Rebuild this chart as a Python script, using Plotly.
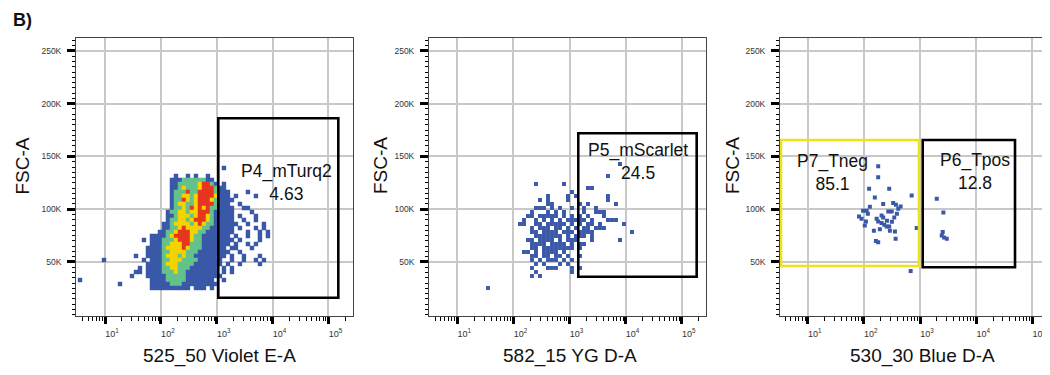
import math
import plotly.graph_objects as go

# ---------------- data ----------------
X_TITLES = ["525_50 Violet E-A", "582_15 YG D-A", "530_30 Blue D-A"]
Y_TITLE = "FSC-A"
Y_TICK_VALUES = [50000, 100000, 150000, 200000, 250000]
Y_TICK_TEXT = ["50K", "100K", "150K", "200K", "250K"]
X_TICK_VALUES = [10, 100, 1000, 10000, 100000]
X_TICK_TEXT = ["10<sup>1</sup>", "10<sup>2</sup>", "10<sup>3</sup>", "10<sup>4</sup>", "10<sup>5</sup>"]

# gates
GATE_NAMES = ["P4_mTurq2", "P5_mScarlet", "P7_Tneg", "P6_Tpos"]
GATE_PCTS = ["4.63", "24.5", "85.1", "12.8"]
GATE_PANEL = [0, 1, 2, 2]
GATE_X0 = [1067, 1432, 3.35, 1117]
GATE_X1 = [150300, 184900, 960, 49200]
GATE_Y0 = [16160, 36070, 46210, 44980]
GATE_Y1 = [186200, 172000, 165650, 165650]
LABEL_X = [18100, 16620, 27.1, 9360]
LABEL_Y = [125800, 144800, 134400, 135300]

# Panel 1: pseudocolour density, binned (row -> (first column, levels))
# levels: b=low, g=mid, y=high, r=highest
P1_X0_LOG, P1_DX_LOG = 0.5516, 0.0716   # log10 of first bin centre, bin width (decades)
P1_Y0, P1_DY = 139100, 3792             # FSC-A of first row centre, row height
P1_ROWS = [
    (36, "b"),
    (0, ""),
    (24, "b..b.b..b"),
    (23, "bbbggggggbb"),
    (23, "bbgggggyrrgb.b"),
    (23, "bbgygggyrrrgbb"),
    (23, "bgggrggrrrrgbbb....b"),
    (23, "bggyygyrrrrybbb.b....b"),
    (23, "bggrygyrrrygbbbb"),
    (23, "bgyyggyrrrrgbbb..b"),
    (23, "bggygryryrggbbbb..bb"),
    (22, "bggyygyyrrrgbbbbb....b"),
    (22, "bbgyyygyrrygbbbbb.b...b"),
    (22, "bggyygyrrrygbbbbb..b..b"),
    (21, "bbgyyyygyryggbbbbbb..b...b"),
    (21, "bbggyryyyyggbbbbbb.b...b.b"),
    (20, "bbggyrrryyggbbbbbbb...b..b.b"),
    (18, "bbbbgyrrrryggbbbbbbb.b..b..b.b"),
    (16, "b.bbbgggyrrryggbbbbbbbb.b....b"),
    (18, "bbbggyyyrrgggbbbbbbb.b..b.b"),
    (17, "bbbbgyyyyrygggbbbbbb.bb...b"),
    (17, "bbbbggyyyygggbbbbbbbb..b"),
    (14, "b..bbbbgyyygyggbbbbbbbb.b..b...b"),
    (6, "b.........b.bbbggyyyggggbbbbbb..b..b..b.b"),
    (17, "bbbbgyyyggggbbbbbbb.b..b....b"),
    (15, "b.bbbbggyygggbbbbbbb.b.b"),
    (14, "bb.bbbbgggyggbbbbbbbb.b.b"),
    (13, "b...bbbbbgggggbbbbbbbbb"),
    (0, "b.................bbbbgggggbbbbbbb..b"),
    (10, "b.......bbbbbgggbbbbbbbbb"),
    (18, "bbbbbbbbbb.bbb.b"),
]
LEVEL_COLORS = {"b": "#3a58a8", "g": "#63c28c", "y": "#f4d300", "r": "#e8351f"}

# Panel 2: events, binned (row -> list of occupied columns)
P2_X0_LOG, P2_DX_LOG = 1.4754, 0.0713
P2_Y0, P2_DY = 142900, 3792
P2_ROWS = [
    [34], [], [], [31], [], [13, 20], [26, 27], [22],
    [16, 21, 23, 31],
    [14, 16, 21, 31],
    [16, 17, 24, 26, 33],
    [13, 14, 15, 17, 19, 22, 25, 28],
    [12, 16, 18, 20, 25, 28, 29, 30],
    [11, 12, 14, 15, 16, 17, 18, 20, 22, 24, 26, 30],
    [10, 13, 15, 17, 19, 21, 22, 23, 24, 25, 27, 31, 32, 33],
    [9, 10, 13, 14, 16, 17, 18, 19, 20, 22, 24, 26, 27, 29, 35],
    [12, 14, 15, 16, 18, 19, 21, 23, 25, 26, 28, 29, 30],
    [12, 13, 15, 16, 17, 18, 20, 21, 22, 24, 25, 26, 27, 37],
    [13, 14, 15, 16, 17, 18, 19, 21, 23, 24, 25, 27],
    [11, 12, 14, 15, 16, 17, 19, 21, 22, 23, 27, 34],
    [12, 13, 14, 15, 17, 18, 19, 20, 22, 24, 25],
    [12, 13, 15, 16, 17, 18, 19, 20, 21, 22, 24],
    [10, 11, 13, 15, 16, 17, 18, 20],
    [12, 13, 15, 16, 18, 19, 21, 24],
    [12, 14, 16, 17, 18, 20, 22],
    [13, 15, 19, 21],
    [12, 16, 17, 18, 22, 24],
    [13, 22],
    [12, 14],
    [], [], [1],
]

# Panel 3: individual events
P3_X = [180, 180, 124, 283, 157, 711, 221, 333, 372, 452, 410, 112, 97, 82, 91, 109,
        104, 169, 180, 207, 221, 272, 313, 348, 207, 231, 254, 283, 151, 358, 164, 180,
        368, 873, 682, 1990, 2610, 2540, 2440, 2690, 3000, 128, 258, 316, 193, 388, 118, 291]
P3_Y = [140800, 130300, 119500, 119500, 111200, 113100, 105000, 105900, 104300, 102700,
        100500, 98600, 98600, 93100, 91000, 88400, 84600, 91000, 88400, 94100, 92200,
        97900, 97900, 92200, 86900, 85200, 83600, 83600, 79500, 78900, 70000, 68800,
        71900, 82100, 41400, 110000, 97000, 78300, 75000, 73100, 71900, 102400, 89000,
        88100, 81000, 95700, 95700, 79500]

# ---------------- layout constants ----------------
# the page body has an 8px margin, so the figure is laid out 8px in from the window
OFF = 8
W, H = 1042, 367


def px(xp):
    return (xp - OFF) / W


def py(yp):
    return 1 - (yp - OFF) / H


X_RANGES = [[0.48, 5.44], [0.495, 5.433], [0.507, 5.315]]
Y_RANGE = [-1200, 262000]
X_DOMAINS = [[px(76), px(353)], [px(429), px(706)], [px(780), 1.0]]
Y_DOMAIN = [py(316), py(38.3)]
BLUE = "#3a58a8"
GATE_COLORS = ["black", "black", "#efe21c", "black"]
FONT = "Liberation Sans, Arial, sans-serif"

# ---------------- build event coordinates ----------------
p1x, p1y, p1c = [], [], []
for r, (off, s) in enumerate(P1_ROWS):
    for i, ch in enumerate(s):
        if ch in LEVEL_COLORS:
            p1x.append(10 ** (P1_X0_LOG + (off + i) * P1_DX_LOG))
            p1y.append(P1_Y0 - r * P1_DY)
            p1c.append(LEVEL_COLORS[ch])

p2x, p2y = [], []
for r, cols in enumerate(P2_ROWS):
    for c in cols:
        p2x.append(10 ** (P2_X0_LOG + c * P2_DX_LOG))
        p2y.append(P2_Y0 - r * P2_DY)

fig = go.Figure()
fig.add_trace(go.Scatter(x=p1x, y=p1y, mode="markers",
                         marker=dict(color=p1c, symbol="square", size=4.4, line=dict(width=0)),
                         xaxis="x", yaxis="y", showlegend=False, hoverinfo="skip"))
fig.add_trace(go.Scatter(x=p2x, y=p2y, mode="markers",
                         marker=dict(color=BLUE, symbol="square", size=3.9, line=dict(width=0)),
                         xaxis="x2", yaxis="y2", showlegend=False, hoverinfo="skip"))
fig.add_trace(go.Scatter(x=P3_X, y=P3_Y, mode="markers",
                         marker=dict(color=BLUE, symbol="square", size=4.0, line=dict(width=0)),
                         xaxis="x3", yaxis="y3", showlegend=False, hoverinfo="skip"))

minor_x = [k * 10 ** d for d in range(0, 6) for k in range(2, 10)]

layout = dict(
    width=W, height=H,
    margin=dict(l=0, r=0, t=0, b=0),
    paper_bgcolor="white", plot_bgcolor="white",
    font=dict(family=FONT, color="#222"),
    showlegend=False,
)
for i in range(3):
    sx = "" if i == 0 else str(i + 1)
    layout["xaxis" + sx] = dict(
        type="log", range=X_RANGES[i], domain=X_DOMAINS[i], anchor="y" + sx,
        tickmode="array", tickvals=X_TICK_VALUES, ticktext=X_TICK_TEXT,
        ticks="outside", ticklen=7, tickwidth=3, tickcolor="black",
        tickfont=dict(size=9, color="#333"), ticklabelshift=7, ticklabelstandoff=2,
        minor=dict(tickmode="array", tickvals=minor_x, ticks="outside", ticklen=3.5,
                   tickwidth=1.3, tickcolor="black", showgrid=False),
        showgrid=True, gridcolor="#c8c8c8", gridwidth=1.8,
        showline=True, mirror=True, linecolor="#444", linewidth=1,
        zeroline=False, automargin=False, fixedrange=True,
    )
    layout["yaxis" + sx] = dict(
        range=Y_RANGE, domain=Y_DOMAIN, anchor="x" + sx,
        tickmode="array", tickvals=Y_TICK_VALUES, ticktext=Y_TICK_TEXT,
        ticks="outside", ticklen=8, tickwidth=3, tickcolor="black",
        tickfont=dict(size=8.5, color="#333"), ticklabelstandoff=4,
        minor=dict(tickmode="linear", tick0=0, dtick=5000, ticks="outside", ticklen=3.5,
                   tickwidth=1.3, tickcolor="black", showgrid=False),
        showgrid=True, gridcolor="#c8c8c8", gridwidth=1.8,
        showline=True, mirror=True, linecolor="#444", linewidth=1,
        zeroline=False, automargin=False, fixedrange=True,
    )
fig.update_layout(**layout)

shapes = []
annotations = []
for g in range(len(GATE_NAMES)):
    p = GATE_PANEL[g]
    sx = "" if p == 0 else str(p + 1)
    shapes.append(dict(type="rect", xref="x" + sx, yref="y" + sx,
                       x0=GATE_X0[g], x1=GATE_X1[g], y0=GATE_Y0[g], y1=GATE_Y1[g],
                       line=dict(color=GATE_COLORS[g], width=2.6), fillcolor="rgba(0,0,0,0)",
                       layer="above"))
    annotations.append(dict(xref="x" + sx, yref="y" + sx,
                            x=math.log10(LABEL_X[g]), y=LABEL_Y[g],
                            text=GATE_NAMES[g] + "<br>" + GATE_PCTS[g], showarrow=False,
                            xanchor="center", yanchor="middle", align="center",
                            font=dict(size=17.5, color="#111", family=FONT)))

title_font = dict(size=19, color="#111", family=FONT)
Y_TITLE_X = [22.5, 381, 733]
X_TITLE_X = [219, 570, 922]
for i in range(3):
    annotations.append(dict(xref="paper", yref="paper", x=px(Y_TITLE_X[i]), y=py(166),
                            text=Y_TITLE, textangle=-90, showarrow=False,
                            xanchor="center", yanchor="middle", font=title_font))
    annotations.append(dict(xref="paper", yref="paper", x=px(X_TITLE_X[i]), y=py(356),
                            text=X_TITLES[i], showarrow=False,
                            xanchor="center", yanchor="middle", font=title_font))
annotations.append(dict(xref="paper", yref="paper", x=px(11), y=1.0, text="<b>B)</b>",
                        showarrow=False, xanchor="left", yanchor="top",
                        font=dict(size=18, color="#111", family=FONT)))
fig.update_layout(shapes=shapes, annotations=annotations)

fig.write_html("out.html")
